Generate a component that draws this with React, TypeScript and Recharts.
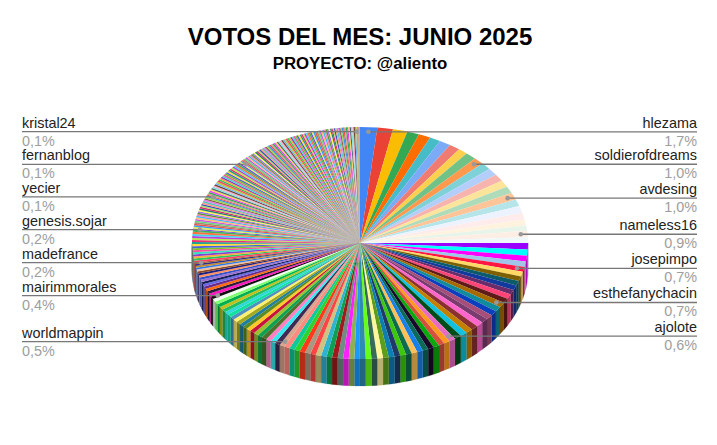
import { PieChart, Pie } from "recharts"

const title = "VOTOS DEL MES: JUNIO 2025"
const subtitle = "PROYECTO: @aliento"

// share of the month's votes, clockwise from 12 o'clock
const votes = [
  1.65, 1.5, 1.4, 1.15, 1.15, 1.05, 1.1, 1.05, 0.9, 1.05, 1.0, 1.0, 1.0, 1.0, 0.95, 0.95, 1.0, 0.95, 0.95, 0.95, 0.85, 0.7, 0.9, 0.8,
  0.9, 0.85, 0.8, 0.75, 0.7, 0.66, 0.66, 0.66, 0.66, 0.66, 0.66, 0.66, 0.7,
  0.68, 0.68, 0.68, 0.68, 0.68, 0.68, 0.68, 0.68, 0.68, 0.62,
  0.58, 0.57, 0.57, 0.57, 0.56, 0.56, 0.56, 0.56, 0.56, 0.56, 0.55, 0.55, 0.55, 0.55, 0.55, 0.55,
  0.53, 0.53, 0.53, 0.53, 0.53, 0.53, 0.53, 0.53, 0.53, 0.53, 0.53, 0.53, 0.53, 0.53, 0.5,
  0.5, 0.5, 0.49, 0.49, 0.48, 0.47, 0.46, 0.46, 0.44, 0.44, 0.44, 0.44, 0.44, 0.43, 0.43, 0.43, 0.43, 0.43, 0.43, 0.42, 0.4,
  0.4, 0.38, 0.37, 0.35, 0.34, 0.33, 0.32, 0.31, 0.3, 0.29, 0.28, 0.27, 0.26, 0.25, 0.24, 0.2,
  0.29, 0.29, 0.29, 0.29, 0.29, 0.29, 0.28, 0.28, 0.28, 0.28, 0.28, 0.28, 0.28, 0.28, 0.28, 0.28, 0.2,
  0.22, 0.22, 0.22, 0.22, 0.22, 0.22, 0.22, 0.22, 0.22, 0.22, 0.21, 0.21, 0.21, 0.21, 0.21, 0.21, 0.21, 0.21, 0.21, 0.21, 0.2, 0.2, 0.15,
  0.2, 0.2, 0.2, 0.2, 0.2, 0.2, 0.2, 0.2, 0.2, 0.2, 0.2, 0.2, 0.2, 0.2, 0.2, 0.2, 0.2, 0.2, 0.2, 0.2, 0.2, 0.2, 0.2, 0.2, 0.19, 0.19, 0.19, 0.19, 0.12,
  0.17, 0.17, 0.17, 0.17, 0.17, 0.17, 0.17, 0.17, 0.17, 0.17, 0.17, 0.17, 0.17, 0.17, 0.17, 0.17, 0.17, 0.17, 0.17, 0.17,
  0.16, 0.16, 0.16, 0.16, 0.16, 0.16, 0.16, 0.16, 0.16, 0.16, 0.16, 0.16, 0.16, 0.16, 0.16, 0.16, 0.16, 0.16, 0.16, 0.16,
  0.15, 0.15, 0.15, 0.15, 0.15, 0.15, 0.15, 0.15, 0.15, 0.15, 0.15, 0.15, 0.15, 0.15, 0.15, 0.15, 0.15, 0.15, 0.15, 0.15,
  0.125, 0.125, 0.125, 0.125, 0.125, 0.125, 0.125, 0.125, 0.125, 0.125, 0.125, 0.125, 0.125, 0.125, 0.125, 0.125, 0.125, 0.125, 0.125, 0.125,
  0.08, 0.05, 0.05, 0.05, 0.05, 0.05, 0.03,
]

const sliceColors = [
  "#4285F4", "#EA4335", "#FBBC04", "#34A853", "#FF6D01", "#46BDC6", "#7BAAF7", "#F07B72", "#FCD04F", "#71C287", "#FF994D", "#7ED1D7",
  "#B3CEFB", "#F7B4AE", "#FDE49B", "#AEDCBA", "#FFC599", "#B5E5E8", "#ECF3FE", "#FDECEB", "#FFF3E0", "#E6F4EA", "#FDEEE5", "#EEF8F8",
  "#9900FF", "#00FFFF", "#FF00FF", "#9FC5E8", "#FF1744", "#FFD966", "#7F6000", "#0B5B6B", "#123A9E", "#6B2C6B", "#FF4477", "#5F1A1A", "#A66A00",
  "#118C9C", "#0B3FBF", "#A64D79", "#7A3B6E", "#FF66CC", "#8A3030", "#C27F00", "#11C1DD", "#004D1A", "#E86BC4",
  "#FF9A1F", "#D4513E", "#0BA90B", "#1A0A2A", "#0B6B5A", "#1A80E8", "#FFC058", "#0E6B4E", "#3DC80F", "#1F3A6A", "#0C7FB0", "#5C9E1A", "#FFF59D", "#3A6A5A", "#66FF1A", "#2E8CB0",
  "#1A99FF", "#8DB053", "#FF20FF", "#6F8B83", "#9F1B1B", "#0F9F50", "#2FB3D0", "#CFC17F", "#FF4444", "#A89A80", "#FF3A1A", "#2FD32F", "#10C89A", "#FF8A80", "#D8A58E",
  "#3F2A55", "#38E8F0", "#FF80C0", "#4E6E2C", "#0FA050", "#9AC030", "#C8143C", "#FFC926", "#5A8A20", "#1F7FA0", "#A4A81E", "#FFF070", "#5090C0", "#10E0A0", "#30D8D8", "#1FC060", "#C0C020", "#00B050", "#7FFF70", "#F0FFF0", "#101010",
  "#FF18C0", "#2C1A3A", "#FF6A10", "#6A2A86", "#6A6AE8", "#15205A", "#9A70D0", "#3550C8", "#FF9060", "#202080", "#8A4A2A", "#F0C0A0", "#2A7AE8", "#C88A2A", "#30308A", "#A06030",
]

// the palette keeps going for the many thin slices, these repeat
const thinColors = [
  "#FF3F66", "#2EC85A", "#FFA83A", "#8A3FD0", "#38E0BC", "#F850A0", "#7FC02F", "#4A5FE0", "#FFDA3A", "#20A08E",
  "#F03076", "#B6EA4A", "#B83FE0", "#3FD4F0", "#FF7040", "#3EB45A", "#7A4FE0", "#E0EE5A", "#2FA0F8", "#EC5050",
  "#AA8A6A", "#5FDC80", "#D050E8", "#FFC070", "#3FB8F8", "#FF80B4", "#5A9A30", "#9A70F0", "#FFF450", "#208070",
  "#E02A70", "#A8E26A", "#3A4AC0", "#FF9880", "#50C8B8", "#E080F0", "#8A6040", "#98D850", "#3A90F0", "#F84848",
  "#C0A890", "#30A850", "#EC40F8", "#FFD450", "#506878", "#80E4D8", "#FFA8CC", "#704830", "#70B4F8", "#C0C830",
]

const labelNames = ["hlezama", "soldierofdreams", "avdesing", "nameless16", "josepimpo", "esthefanychacin", "ajolote", "worldmappin", "mairimmorales", "madefrance", "genesis.sojar", "yecier", "fernanblog", "kristal24"]
const labelPercents = ["1,7%", "1,0%", "1,0%", "0,9%", "0,7%", "0,7%", "0,6%", "0,5%", "0,4%", "0,2%", "0,2%", "0,1%", "0,1%", "0,1%"]
const labelSlices = [0, 10, 16, 22, 28, 36, 46, 77, 98, 114, 131, 154, 183, 264]

const tableData = votes.map((value, i) => ({
  name: labelSlices.includes(i) ? labelNames[labelSlices.indexOf(i)] : `voter${i}`,
  value,
  fill: i < sliceColors.length ? sliceColors[i] : thinColors[(i - sliceColors.length) % thinColors.length],
}))

const TILT = 116 / 168
const DEPTH = 27
const RAD = Math.PI / 180

function darken(hex: string, k: number) {
  const n = parseInt(hex.slice(1), 16)
  const c = (v: number) => Math.round(v * k)
  return `rgb(${c(n >> 16)},${c((n >> 8) & 255)},${c(n & 255)})`
}

function SliceShape(props: any) {
  const { cx, cy, outerRadius: r, startAngle, endAngle, fill } = props
  const ry = r * TILT
  const px = (a: number) => cx + r * Math.cos(a * RAD)
  const py = (a: number) => cy - ry * Math.sin(a * RAD)
  const large = Math.abs(startAngle - endAngle) > 180 ? 1 : 0
  const top = `M${cx},${cy}L${px(startAngle)},${py(startAngle)}A${r},${ry} 0 ${large} 1 ${px(endAngle)},${py(endAngle)}Z`
  // only the front half of the rim shows
  const a1 = Math.min(startAngle, 0)
  const a2 = Math.max(endAngle, -180)
  let side = null
  if (a1 > a2) {
    const d = `M${px(a1)},${py(a1)}A${r},${ry} 0 0 1 ${px(a2)},${py(a2)}L${px(a2)},${py(a2) + DEPTH}A${r},${ry} 0 0 0 ${px(a1)},${py(a1) + DEPTH}Z`
    side = <path d={d} fill={darken(fill, 0.72)} stroke={darken(fill, 0.72)} strokeWidth={0.2} />
  }
  return (
    <g>
      {side}
      <path d={top} fill={fill} />
    </g>
  )
}

function SliceLabel(props: any) {
  const { cx, cy, outerRadius: r, midAngle, index } = props
  const at = labelSlices.indexOf(index)
  if (at < 0) return <g />
  const dotX = cx + 0.96 * r * Math.cos(midAngle * RAD)
  const dotY = cy - 0.96 * r * TILT * Math.sin(midAngle * RAD)
  const right = dotX > cx + 5
  const x = right ? 697 : 22
  const anchor = right ? "end" : "start"
  return (
    <g fontFamily="Arial, 'Liberation Sans', sans-serif" fontSize={14.4}>
      <line x1={x} x2={dotX} y1={dotY} y2={dotY} stroke="#777777" strokeWidth={1.3} />
      <circle cx={dotX} cy={dotY} r={2.3} fill="#999999" />
      <text x={x} y={dotY - 4} textAnchor={anchor} fill="#222222">{labelNames[at]}</text>
      <text x={x} y={dotY + 14} textAnchor={anchor} fill="#9e9e9e">{labelPercents[at]}</text>
    </g>
  )
}

export default function App() {
  return (
    <div style={{ position: "absolute", left: 0, top: 0, width: 717, height: 445, background: "#ffffff" }}>
      <PieChart width={717} height={445} margin={{ top: 0, right: 0, bottom: 0, left: 0 }}>
        <text x={360} y={45} textAnchor="middle" fontFamily="Arial, 'Liberation Sans', sans-serif" fontWeight="bold" fontSize={24} fill="#000000">{title}</text>
        <text x={360} y={69} textAnchor="middle" fontFamily="Arial, 'Liberation Sans', sans-serif" fontWeight="bold" fontSize={16.8} fill="#000000">{subtitle}</text>
        <Pie
          data={tableData}
          dataKey="value"
          nameKey="name"
          cx={360}
          cy={243}
          outerRadius={168}
          startAngle={90}
          endAngle={-270}
          stroke="none"
          shape={SliceShape}
          label={SliceLabel}
          labelLine={false}
          isAnimationActive={false}
        />
      </PieChart>
    </div>
  )
}
